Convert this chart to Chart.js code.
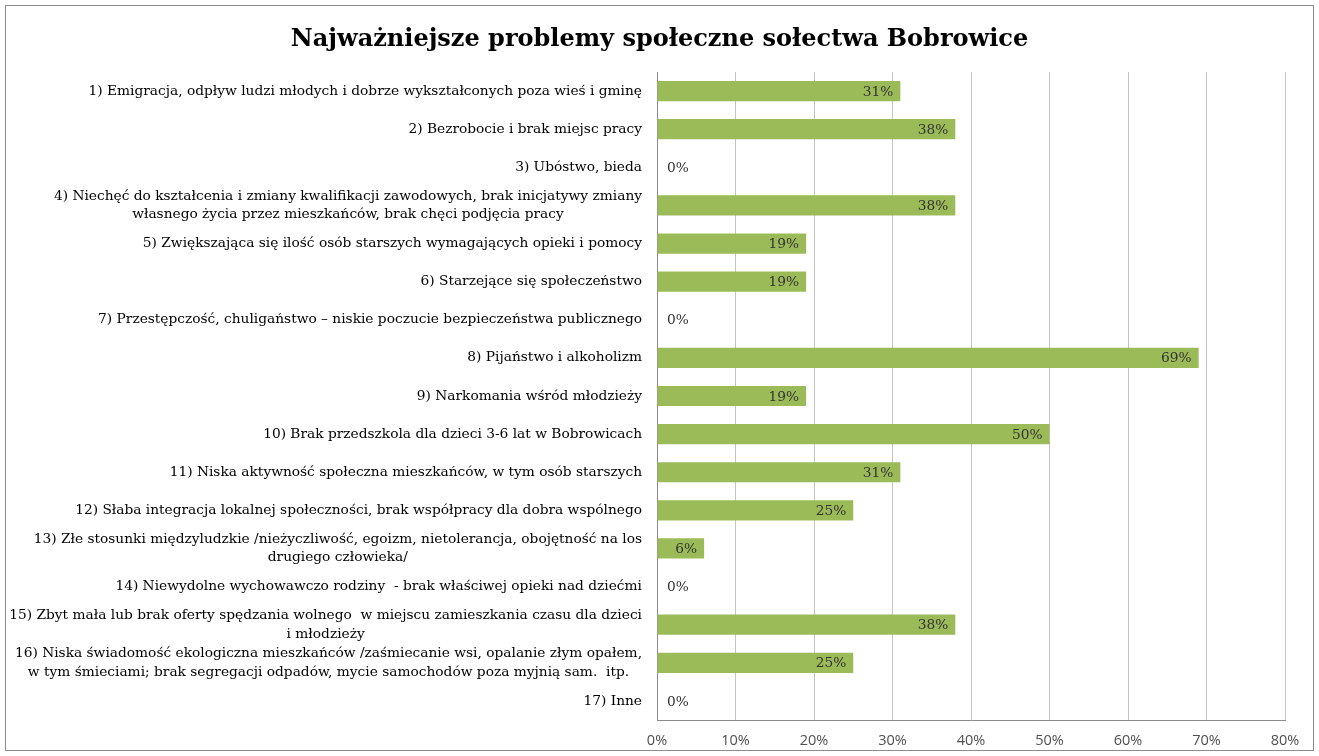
<!DOCTYPE html>
<html>
<head>
<meta charset="utf-8">
<script src="https://cdn.jsdelivr.net/npm/chart.js@4.4.1/dist/chart.umd.min.js"></script>
<style>
  html, body { margin: 0; padding: 0; background: #fff; }
  #wrap { width: 1319px; height: 756px; position: relative; }
</style>
</head>
<body>
<div id="wrap"><canvas id="chart" width="1319" height="756"></canvas></div>
<script>
// kategorie (wiele linii = tablica)
const categories = [
    ['1) Emigracja, odpływ ludzi młodych i dobrze wykształconych poza wieś i gminę'],
    ['2) Bezrobocie i brak miejsc pracy'],
    ['3) Ubóstwo, bieda'],
    ['4) Niechęć do kształcenia i zmiany kwalifikacji zawodowych, brak inicjatywy zmiany', 'własnego życia przez mieszkańców, brak chęci podjęcia pracy'],
    ['5) Zwiększająca się ilość osób starszych wymagających opieki i pomocy'],
    ['6) Starzejące się społeczeństwo'],
    ['7) Przestępczość, chuligaństwo – niskie poczucie bezpieczeństwa publicznego'],
    ['8) Pijaństwo i alkoholizm'],
    ['9) Narkomania wśród młodzieży'],
    ['10) Brak przedszkola dla dzieci 3-6 lat w Bobrowicach'],
    ['11) Niska aktywność społeczna mieszkańców, w tym osób starszych'],
    ['12) Słaba integracja lokalnej społeczności, brak współpracy dla dobra wspólnego'],
    ['13) Złe stosunki międzyludzkie /nieżyczliwość, egoizm, nietolerancja, obojętność na los', 'drugiego człowieka/'],
    ['14) Niewydolne wychowawczo rodziny  - brak właściwej opieki nad dziećmi'],
    ['15) Zbyt mała lub brak oferty spędzania wolnego  w miejscu zamieszkania czasu dla dzieci', 'i młodzieży'],
    ['16) Niska świadomość ekologiczna mieszkańców /zaśmiecanie wsi, opalanie złym opałem,', 'w tym śmieciami; brak segregacji odpadów, mycie samochodów poza myjnią sam.  itp.'],
    ['17) Inne']
];
// wartości w procentach
const values = [31, 38, 0, 38, 19, 19, 0, 69, 19, 50, 31, 25, 6, 0, 38, 25, 0];
// oś X
const xTicks = [0, 10, 20, 30, 40, 50, 60, 70, 80];

const serif = '"DejaVu Serif", serif';
const labelFont = '13.75px ' + serif;

// ramka wokół wykresu
const framePlugin = {
    id: 'frame',
    afterDraw(chart) {
        const ctx = chart.ctx;
        ctx.save();
        ctx.strokeStyle = '#8c8c8c';
        ctx.lineWidth = 1;
        ctx.strokeRect(5.5, 5.5, 1308, 745);
        ctx.restore();
    }
};

// etykiety kategorii - linie wyśrodkowane względem najszerszej, całość do prawej
const catLabelsPlugin = {
    id: 'catLabels',
    afterDraw(chart) {
        const ctx = chart.ctx;
        const yScale = chart.scales.y;
        const right = chart.chartArea.left - 15;
        ctx.save();
        ctx.font = labelFont;
        ctx.fillStyle = '#000';
        ctx.textAlign = 'center';
        ctx.textBaseline = 'middle';
        categories.forEach((lines, i) => {
            const yc = yScale.getPixelForValue(i);
            const widest = Math.max(...lines.map(l => ctx.measureText(l).width));
            const cx = right - widest / 2;
            const lh = 18.5;
            const y0 = yc - (lines.length - 1) * lh / 2;
            lines.forEach((l, j) => ctx.fillText(l, cx, y0 + j * lh));
        });
        ctx.restore();
    }
};

// wartości na słupkach
const valueLabelsPlugin = {
    id: 'valueLabels',
    afterDatasetsDraw(chart) {
        const ctx = chart.ctx;
        const meta = chart.getDatasetMeta(0);
        ctx.save();
        ctx.font = labelFont;
        ctx.fillStyle = '#333';
        ctx.textBaseline = 'middle';
        meta.data.forEach((bar, i) => {
            const v = values[i];
            const txt = v + '%';
            if (v > 0) {
                ctx.textAlign = 'right';
                ctx.fillText(txt, bar.x - 7, bar.y + 1);
            } else {
                ctx.textAlign = 'left';
                ctx.fillText(txt, bar.x + 10, bar.y + 1);
            }
        });
        ctx.restore();
    }
};

new Chart(document.getElementById('chart').getContext('2d'), {
    type: 'bar',
    data: {
        labels: categories,
        datasets: [{
            data: values,
            backgroundColor: '#9bbb59',
            borderWidth: 0,
            categoryPercentage: 1,
            barPercentage: 0.53
        }]
    },
    options: {
        indexAxis: 'y',
        responsive: false,
        animation: false,
        layout: { padding: { left: 34, right: 34, top: 0, bottom: 0 } },
        plugins: {
            legend: { display: false },
            tooltip: { enabled: false },
            title: {
                display: true,
                text: 'Najważniejsze problemy społeczne sołectwa Bobrowice',
                color: '#000',
                font: { family: serif, size: 24, weight: 'bold' },
                padding: { top: 25.5, bottom: 17.7 }
            }
        },
        scales: {
            x: {
                min: 0,
                max: 80,
                afterBuildTicks(scale) {
                    scale.ticks = xTicks.map(v => ({ value: v }));
                },
                afterFit(scale) { scale.height = 36; },
                grid: { color: '#c4c4c4', drawTicks: false },
                border: { color: '#8c8c8c' },
                ticks: {
                    padding: 12.5,
                    color: '#505050',
                    font: { family: '"Open Sans", sans-serif', size: 14.5 },
                    callback: v => v + '%'
                }
            },
            y: {
                afterFit(scale) { scale.width = 623; },
                grid: { display: false },
                border: { display: true, color: '#8c8c8c' },
                ticks: { display: false }
            }
        }
    },
    plugins: [framePlugin, catLabelsPlugin, valueLabelsPlugin]
});
</script>
</body>
</html>
